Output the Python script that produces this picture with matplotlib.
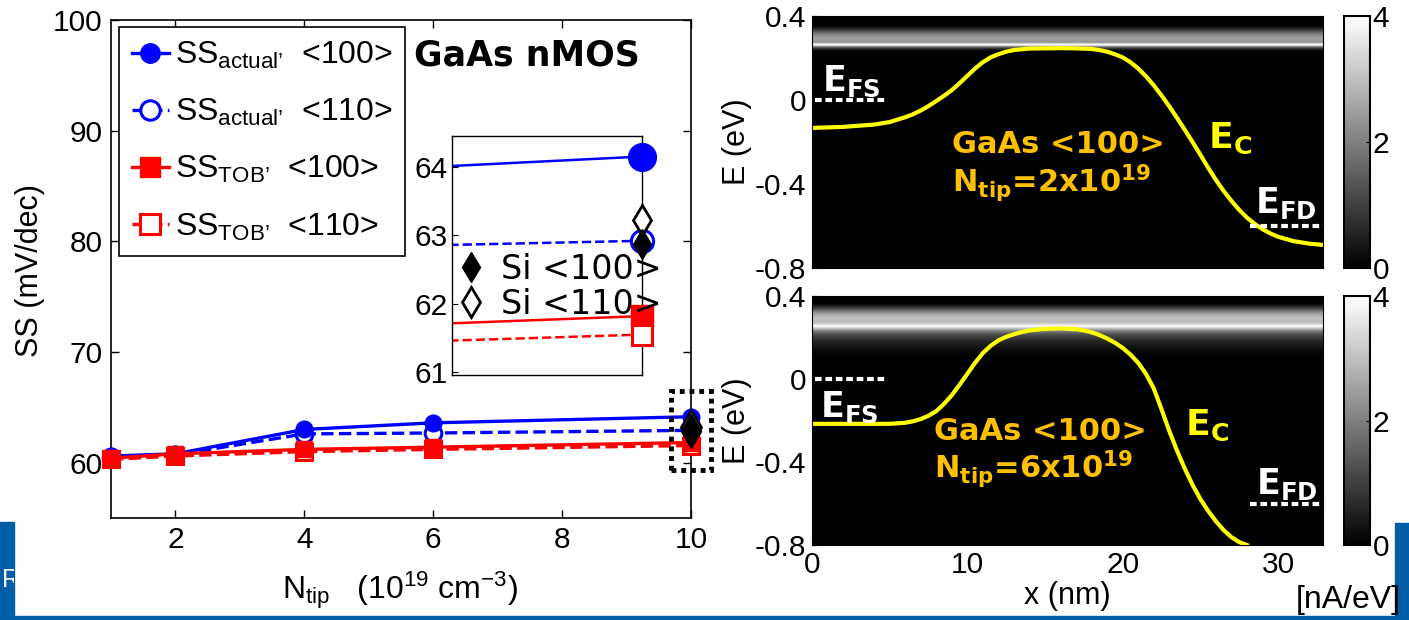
import numpy as np
import matplotlib
matplotlib.use('Agg')
import matplotlib.pyplot as plt
from matplotlib.patches import Rectangle
from matplotlib.lines import Line2D

W, H = 1409, 620
plt.rcParams['font.family'] = ['Liberation Sans', 'DejaVu Sans']
plt.rcParams['mathtext.fontset'] = 'custom'
plt.rcParams['mathtext.rm'] = 'Liberation Sans'
plt.rcParams['mathtext.it'] = 'Liberation Sans:italic'
plt.rcParams['mathtext.bf'] = 'Liberation Sans:bold'

# ---------------- data: left panel ----------------
n_tip = [1, 2, 4, 6, 10]
ss_actual_100 = [60.6, 60.8, 63.0, 63.6, 64.15]
ss_actual_110 = [60.5, 60.7, 62.6, 62.68, 62.92]
ss_tob_100 = [60.4, 60.8, 61.2, 61.4, 61.82]
ss_tob_110 = [60.3, 60.6, 61.0, 61.2, 61.55]
si_x = 10
si_100 = 62.87
si_110 = 63.23
xticks_left = [2, 4, 6, 8, 10]
yticks_left = [60, 70, 80, 90, 100]
inset_yticks = [61, 62, 63, 64]

# ---------------- data: right panels ----------------
x_top = [0, 2, 4, 5, 6, 6.5, 7, 7.5, 8, 8.5, 9, 9.5, 10, 10.5, 11, 11.5, 12, 12.5,
         13, 14, 16, 17, 18, 18.5, 19, 19.5, 20, 20.5, 21, 21.5, 22, 22.5, 23, 23.5,
         24, 24.5, 25, 25.5, 26, 26.5, 27, 27.5, 28, 28.5, 29, 29.5, 30, 31, 32, 32.9]
ec_top = [-0.133, -0.128, -0.117, -0.105, -0.082, -0.068, -0.050, -0.029, -0.005,
          0.020, 0.047, 0.080, 0.115, 0.150, 0.180, 0.203, 0.218, 0.230, 0.238,
          0.245, 0.247, 0.246, 0.243, 0.238, 0.230, 0.218, 0.203, 0.180, 0.150,
          0.113, 0.070, 0.022, -0.030, -0.085, -0.142, -0.200, -0.260, -0.322,
          -0.380, -0.433, -0.480, -0.523, -0.560, -0.590, -0.615, -0.635, -0.651,
          -0.672, -0.684, -0.690]
x_bot = [0, 5, 6, 6.5, 7, 7.5, 8, 8.5, 9, 9.5, 10, 10.5, 11, 11.5, 12, 12.5, 13,
         13.5, 14, 15, 16, 17, 17.5, 18, 18.5, 19, 19.5, 20, 20.5, 21, 21.5, 22,
         22.5, 23, 23.5, 24, 24.5, 25, 25.5, 26, 26.5, 27, 27.5, 28]
ec_bot = [-0.216, -0.216, -0.211, -0.204, -0.193, -0.177, -0.155, -0.120, -0.078,
          -0.028, 0.025, 0.078, 0.125, 0.160, 0.186, 0.203, 0.216, 0.226, 0.234,
          0.242, 0.244, 0.240, 0.234, 0.225, 0.212, 0.195, 0.175, 0.150, 0.118,
          0.078, 0.025, -0.045, -0.145, -0.250, -0.345, -0.432, -0.510, -0.578,
          -0.635, -0.685, -0.728, -0.762, -0.786, -0.800]

# current spectrum profile (uniform along x), energies top->bottom
band_top_E = [0.350, 0.345, 0.340, 0.335, 0.330, 0.325, 0.320, 0.315, 0.310,
              0.305, 0.300, 0.295, 0.290, 0.285, 0.280, 0.275, 0.270, 0.265,
              0.260, 0.255, 0.250, 0.245, 0.240, 0.235, 0.230, 0.225]
band_top_I = [0.0, 0.2, 0.4, 0.6, 0.9, 1.2, 1.5, 1.8, 2.0, 2.2, 2.3, 2.4, 2.5,
              2.5, 2.4, 2.3, 2.6, 3.6, 4.0, 2.8, 1.6, 1.0, 0.5, 0.2, 0.05, 0.0]
band_bot_E = [0.36, 0.35, 0.34, 0.33, 0.32, 0.31, 0.30, 0.29, 0.28, 0.27, 0.26,
              0.25, 0.24, 0.23, 0.22, 0.21, 0.20, 0.19, 0.18, 0.17, 0.16, 0.15,
              0.14, 0.13, 0.12, 0.11, 0.10]
band_bot_I = [0.0, 0.3, 0.8, 1.4, 2.0, 2.5, 2.8, 3.0, 3.0, 2.9, 3.4, 4.0, 3.0,
              2.2, 1.6, 1.2, 1.0, 0.8, 0.6, 0.5, 0.4, 0.3, 0.2, 0.15, 0.1, 0.05, 0.0]
efs_x = [0.2, 4.9]
efd_x = [28.2, 32.9]
efs_E = 0.0
efd_E = -0.6
x_max = 32.9
e_ticks = [0.4, 0.0, -0.4, -0.8]
e_ticklabels = ['0.4', '0', '-0.4', '-0.8']
x_ticks_right = [0, 10, 20, 30]
cbar_ticks = [0, 2, 4]

fig = plt.figure(figsize=(W / 100, H / 100), dpi=100)


def rect(x0, y0, x1, y1):
    return [x0 / W, 1 - y1 / H, (x1 - x0) / W, (y1 - y0) / H]


BLUE = '#0000FF'
RED = '#FF0000'
TFS = 21.5

# ---------------- main left axes ----------------
ax = fig.add_axes(rect(111, 20, 691, 518))
ax.set_xlim(1, 10)
ax.set_ylim(55, 100)
ax.plot(n_tip, ss_actual_110, '--', color=BLUE, lw=2.4, marker='o', ms=12,
        mfc='white', mec=BLUE, mew=2.2, clip_on=False, zorder=3)
ax.plot(n_tip, ss_actual_100, '-', color=BLUE, lw=2.4, marker='o', ms=12,
        clip_on=False, zorder=4)
ax.plot(n_tip, ss_tob_110, '--', color=RED, lw=2.4, marker='s', ms=12,
        mfc='white', mec=RED, mew=2.2, clip_on=False, zorder=5)
ax.plot(n_tip, ss_tob_100, '-', color=RED, lw=2.4, marker='s', ms=12,
        clip_on=False, zorder=6)
ax.plot([si_x], [si_110], ls='none', marker='d', ms=17, mfc='white', mec='k',
        mew=2, clip_on=False, zorder=7)
ax.plot([si_x], [si_100], ls='none', marker='d', ms=17, mfc='k', mec='k',
        clip_on=False, zorder=8)
ax.add_patch(Rectangle((9.69, 59.34), 0.62, 7.14, fill=False, ls=(0, (1, 1)),
                       lw=3.5, ec='k', clip_on=False, zorder=9))
ax.set_xticks(xticks_left)
ax.set_yticks(yticks_left)
ax.tick_params(direction='in', length=6, width=1, top=True, right=True,
               labelsize=TFS, pad=6)
for s in ax.spines.values():
    s.set_linewidth(1.2)

handles = [
    Line2D([], [], color=BLUE, lw=2.4, marker='o', ms=14),
    Line2D([], [], color=BLUE, lw=2.4, ls='--', marker='o', ms=14, mfc='white', mew=2.2),
    Line2D([], [], color=RED, lw=2.4, marker='s', ms=14),
    Line2D([], [], color=RED, lw=2.4, ls='--', marker='s', ms=14, mfc='white', mew=2.2),
]
labels = [r'SS$_{\mathrm{actual’}}$  <100>', r'SS$_{\mathrm{actual’}}$  <110>',
          r'SS$_{\mathrm{TOB’}}$  <100>', r'SS$_{\mathrm{TOB’}}$  <110>']
leg = ax.legend(handles, labels, loc='upper left',
                bbox_to_anchor=(119 / W, 1 - 27 / H), bbox_transform=fig.transFigure,
                fontsize=23, frameon=True, fancybox=False, edgecolor='k',
                framealpha=1, handlelength=1.15, handletextpad=0.2, borderpad=0.4,
                labelspacing=0.82, borderaxespad=0)
leg.get_frame().set_linewidth(1.2)
leg.set_zorder(10)

fig.text(527 / W, 1 - 55 / H, 'GaAs nMOS', family='DejaVu Sans', weight='bold',
         fontsize=25, ha='center', va='center')
fig.text(30 / W, 1 - 270 / H, 'SS (mV/dec)', rotation=90, fontsize=22,
         ha='center', va='center')
fig.text(400 / W, 1 - 590 / H, r'N$_{\mathrm{tip}}$   (10$^{19}$ cm$^{-3}$)',
         fontsize=23, ha='center', va='center')

# ---------------- inset ----------------
axin = fig.add_axes(rect(452, 136, 642, 375))
axin.set_xlim(9, 10)
axin.set_ylim(60.96, 64.45)
axin.plot(n_tip, ss_actual_110, '--', color=BLUE, lw=1.8)
axin.plot(n_tip, ss_actual_100, '-', color=BLUE, lw=1.8)
axin.plot(n_tip, ss_tob_110, '--', color=RED, lw=1.8)
axin.plot(n_tip, ss_tob_100, '-', color=RED, lw=1.8)
axin.plot(n_tip[-1:], ss_actual_100[-1:], ls='none', marker='o', ms=20, color=BLUE,
          clip_on=False, zorder=4)
axin.plot(n_tip[-1:], ss_actual_110[-1:], ls='none', marker='o', ms=16, mfc='white',
          mec=BLUE, mew=2.2, clip_on=False, zorder=4)
axin.plot(n_tip[-1:], ss_tob_100[-1:], ls='none', marker='s', ms=16, color=RED,
          clip_on=False, zorder=4)
axin.plot(n_tip[-1:], ss_tob_110[-1:], ls='none', marker='s', ms=15, mfc='white',
          mec=RED, mew=2.2, clip_on=False, zorder=5)
axin.plot([si_x], [si_110], ls='none', marker='d', ms=15, mfc='white', mec='k',
          mew=2, clip_on=False, zorder=6)
axin.plot([si_x], [si_100], ls='none', marker='d', ms=15, mfc='k', mec='k',
          clip_on=False, zorder=7)
axin.set_xticks([])
axin.set_yticks(inset_yticks)
axin.tick_params(direction='in', length=4, labelsize=TFS, pad=3)
for s in axin.spines.values():
    s.set_linewidth(1.0)
si_handles = [Line2D([], [], ls='none', marker='d', ms=15, mfc='k', mec='k'),
              Line2D([], [], ls='none', marker='d', ms=15, mfc='white', mec='k', mew=2)]
sileg = axin.legend(si_handles, ['Si <100>', 'Si <110>'], loc='upper left',
                    bbox_to_anchor=(461 / W, 1 - 253 / H), bbox_transform=fig.transFigure,
                    prop={'family': 'DejaVu Sans', 'size': 24}, frameon=False,
                    handlelength=0.6, handletextpad=0.6, labelspacing=0.05,
                    borderpad=0, borderaxespad=0)
sileg.set_zorder(10)

# ---------------- right panels ----------------
ORANGE = '#FFC000'
YEL = '#FFFF00'


def heat(axr, bandE, bandI):
    step = abs(bandE[0] - bandE[1])
    img = np.tile(np.array(bandI)[:, None], (1, 2))
    axr.set_facecolor('black')
    im = axr.imshow(img, cmap='gray', vmin=0, vmax=4, aspect='auto',
                    interpolation='bilinear',
                    extent=[0, x_max, bandE[-1] - step / 2, bandE[0] + step / 2])
    axr.set_xlim(0, x_max)
    axr.set_ylim(-0.8, 0.4)
    axr.set_yticks(e_ticks)
    axr.set_yticklabels(e_ticklabels)
    axr.set_xticks(x_ticks_right)
    axr.tick_params(direction='in', length=4, labelsize=TFS, pad=4)
    axr.set_ylabel('E (eV)', fontsize=22, labelpad=2)
    return im


axT = fig.add_axes(rect(812, 16, 1323, 268))
imT = heat(axT, band_top_E, band_top_I)
axT.set_xticklabels([])
axT.plot(x_top, ec_top, color=YEL, lw=3)
axT.plot(efs_x, [efs_E, efs_E], color='white', lw=3, ls=(0, (1.6, 0.9)))
axT.plot(efd_x, [efd_E, efd_E], color='white', lw=3, ls=(0, (1.6, 0.9)))
axT.text(0.65, 0.042, r'$\mathbf{E}_{\mathbf{FS}}$', color='white', fontsize=25,
         math_fontfamily='dejavusans', va='baseline')
axT.text(28.5, -0.538, r'$\mathbf{E}_{\mathbf{FD}}$', color='white', fontsize=25,
         math_fontfamily='dejavusans', va='baseline')
axT.text(25.5, -0.228, r'$\mathbf{E}_{\mathbf{C}}$', color=YEL, fontsize=26,
         math_fontfamily='dejavusans', va='baseline')
axT.text(9.0, -0.252, 'GaAs <100>', color=ORANGE, fontsize=22, weight='bold',
         family='DejaVu Sans', va='baseline')
axT.text(9.0, -0.438, r'N$_{\mathbf{tip}}$=2x10$^{\mathbf{19}}$', color=ORANGE,
         fontsize=22, weight='bold', family='DejaVu Sans', math_fontfamily='dejavusans',
         va='baseline')

axB = fig.add_axes(rect(812, 296, 1323, 545))
imB = heat(axB, band_bot_E, band_bot_I)
axB.plot(x_bot, ec_bot, color=YEL, lw=3)
axB.plot(efs_x, [efs_E, efs_E], color='white', lw=3, ls=(0, (1.6, 0.9)))
axB.plot(efd_x, [efd_E, efd_E], color='white', lw=3, ls=(0, (1.6, 0.9)))
axB.text(0.5, -0.184, r'$\mathbf{E}_{\mathbf{FS}}$', color='white', fontsize=25,
         math_fontfamily='dejavusans', va='baseline')
axB.text(28.6, -0.552, r'$\mathbf{E}_{\mathbf{FD}}$', color='white', fontsize=25,
         math_fontfamily='dejavusans', va='baseline')
axB.text(24.0, -0.272, r'$\mathbf{E}_{\mathbf{C}}$', color=YEL, fontsize=26,
         math_fontfamily='dejavusans', va='baseline')
axB.text(7.86, -0.296, 'GaAs <100>', color=ORANGE, fontsize=22, weight='bold',
         family='DejaVu Sans', va='baseline')
axB.text(7.86, -0.48, r'N$_{\mathbf{tip}}$=6x10$^{\mathbf{19}}$', color=ORANGE,
         fontsize=22, weight='bold', family='DejaVu Sans', math_fontfamily='dejavusans',
         va='baseline')
axB.set_xlabel('x (nm)', fontsize=22, labelpad=2)

for im, r in [(imT, rect(1344, 16, 1370, 268)), (imB, rect(1344, 296, 1370, 545))]:
    cax = fig.add_axes(r)
    cb = fig.colorbar(im, cax=cax, ticks=cbar_ticks)
    cb.outline.set_linewidth(1.5)
    cax.tick_params(direction='in', length=3, labelsize=TFS, pad=2)

fig.text(1348 / W, 1 - 600 / H, '[nA/eV]', fontsize=23, ha='center', va='center')

# ---------------- slide decorations ----------------
SLIDE = '#005DA6'
left_bar = Rectangle((0, 0), 14 / W, 98 / H, transform=fig.transFigure,
                     color=SLIDE, zorder=0)
fig.patches.append(left_bar)
fig.patches.append(Rectangle((0, 0), 1, 4 / H, transform=fig.transFigure,
                             color=SLIDE, zorder=0))
fig.patches.append(Rectangle((1395 / W, 0), 14 / W, 97 / H, transform=fig.transFigure,
                             color=SLIDE, zorder=0))
tR = fig.text(2 / W, 1 - 580 / H, 'R', color='white', fontsize=18, va='center')
tR.set_clip_path(left_bar)

fig.savefig('out.png', dpi=100)
